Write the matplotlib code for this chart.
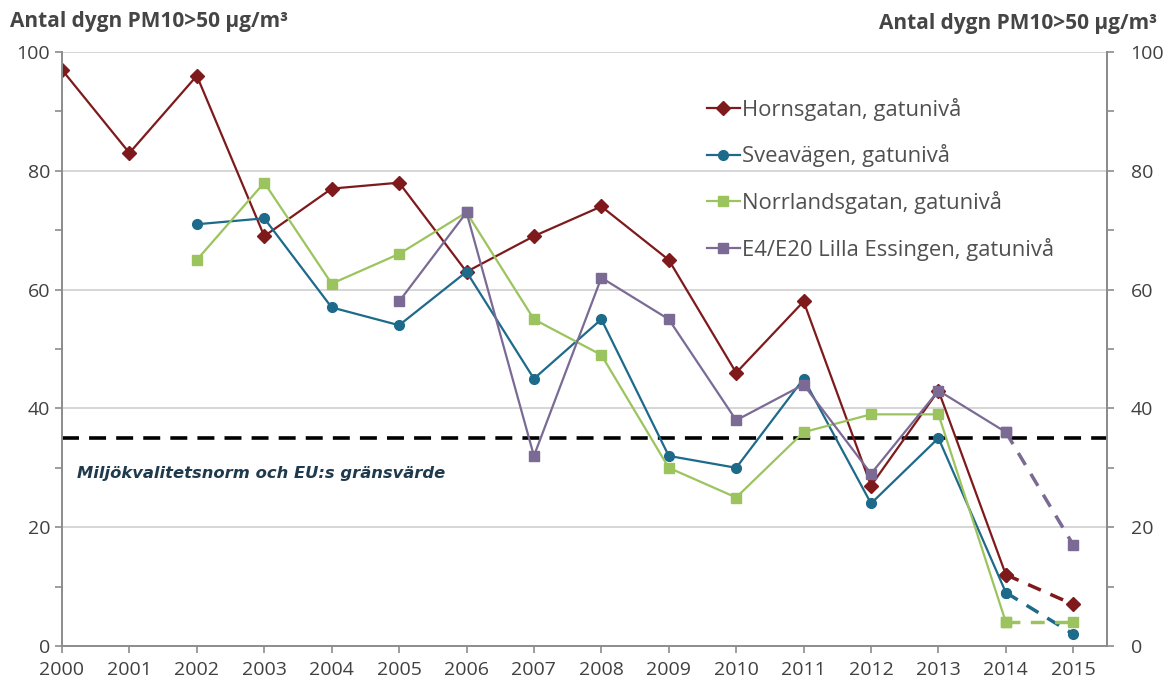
import numpy as np
import matplotlib.pyplot as plt
from matplotlib.ticker import MultipleLocator

plt.rcParams['font.family'] = ['Open Sans', 'DejaVu Sans']

years = list(range(2000, 2016))
hornsgatan = [97, 83, 96, 69, 77, 78, 63, 69, 74, 65, 46, 58, 27, 43, 12, 7]
sveavagen = [None, None, 71, 72, 57, 54, 63, 45, 55, 32, 30, 45, 24, 35, 9, 2]
norrlandsgatan = [None, None, 65, 78, 61, 66, 73, 55, 49, 30, 25, 36, 39, 39, 4, 4]
essingen = [None, None, None, None, None, 58, 73, 32, 62, 55, 38, 44, 29, 43, 36, 17]
limit = 35

series = [
    ("Hornsgatan, gatunivå", hornsgatan, "#7e1a1c", "D", 7),
    ("Sveavägen, gatunivå", sveavagen, "#1d6a8a", "o", 7),
    ("Norrlandsgatan, gatunivå", norrlandsgatan, "#9cc45e", "s", 6.5),
    ("E4/E20 Lilla Essingen, gatunivå", essingen, "#7a6a94", "s", 6.5),
]

fig = plt.figure(figsize=(11.68, 6.91), dpi=100)
ax = fig.add_axes([62 / 1168, 45 / 691, (1107 - 62) / 1168, (646 - 52) / 691])

for label, vals, color, marker, ms in series:
    x = np.array([y for y, v in zip(years, vals) if v is not None])
    y = np.array([v for v in vals if v is not None], dtype=float)
    solid = x <= 2014
    ax.plot(x[solid], y[solid], color=color, marker=marker, markersize=ms,
            linewidth=1.6, label=label)
    tail = x >= 2014
    ax.plot(x[tail], y[tail], color=color, marker=marker, markersize=ms,
            linewidth=2.5, linestyle=(0, (4, 3)))

ax.axhline(limit, color="black", linewidth=2.6, linestyle=(0, (4.7, 2.8)), zorder=1)
ax.text(2000.22, 29.1, "Miljökvalitetsnorm och EU:s gränsvärde", va="center",
        fontsize=11.8, fontweight="bold", fontstyle="italic", color="#1f3a4d",
        family=["DejaVu Sans"])

ax.set_xlim(2000, 2015.5)
ax.set_ylim(0, 100)
ax.set_xticks(years)
ax.set_yticks(range(0, 101, 20))
ax.yaxis.set_minor_locator(MultipleLocator(10))
ax.grid(axis="y", color="#d0d0d0", linewidth=1.2)
ax.set_axisbelow(True)
for side in ["left", "bottom", "right"]:
    ax.spines[side].set_color("#8c8c8c")
    ax.spines[side].set_linewidth(1.4)
ax.spines["top"].set_visible(False)
ax.tick_params(axis="both", which="both", colors="#8c8c8c", length=5, width=1.2,
               labelcolor="#404040", labelsize=14)
ax.tick_params(axis="x", pad=6)

ax2 = ax.twinx()
ax2.set_ylim(0, 100)
ax2.set_yticks(range(0, 101, 20))
ax2.yaxis.set_minor_locator(MultipleLocator(10))
for side in ["left", "bottom", "top"]:
    ax2.spines[side].set_visible(False)
ax2.spines["right"].set_color("#8c8c8c")
ax2.spines["right"].set_linewidth(1.4)
ax2.tick_params(axis="y", which="both", colors="#8c8c8c", length=5, width=1.2,
                labelcolor="#404040", labelsize=14, pad=12)

ax.legend(loc="upper left", bbox_to_anchor=(0.617, 0.923), frameon=False,
          borderaxespad=0, borderpad=0, fontsize=15.8, labelcolor="#505050",
          handlelength=1.5, handletextpad=0.1, labelspacing=1.08)

fig.text(10 / 1168, 1 - 21 / 691, "Antal dygn PM10>50 µg/m³", fontsize=15,
         fontweight="bold", color="#454545", va="center")
fig.text(1157 / 1168, 1 - 23 / 691, "Antal dygn PM10>50 µg/m³", fontsize=15,
         fontweight="bold", color="#454545", va="center", ha="right")

fig.savefig("out.png", dpi=100)
